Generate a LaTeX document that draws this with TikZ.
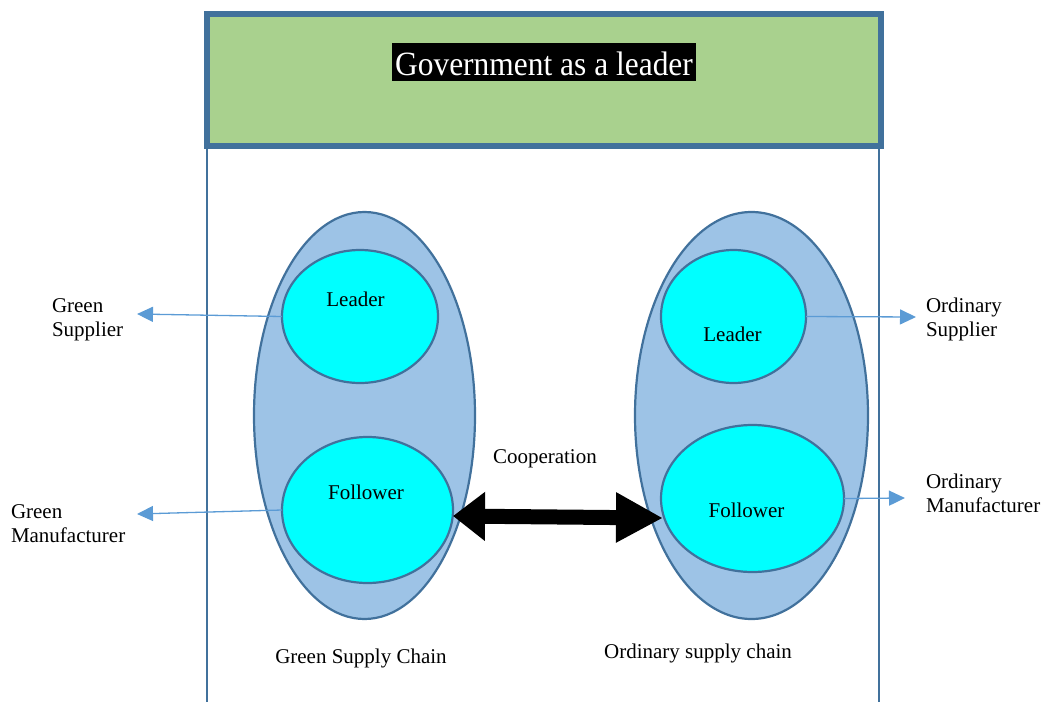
\documentclass[tikz,border=0pt]{standalone}
\usepackage{fontspec}
\usepackage{graphicx}
\setmainfont{Liberation Serif}
\usetikzlibrary{shapes.geometric,arrows.meta,calc}
\definecolor{bord}{HTML}{41719C}
\definecolor{govfill}{HTML}{A9D18E}
\definecolor{chainfill}{HTML}{9DC3E6}
\definecolor{aqua}{RGB}{0,255,255}
\definecolor{linkblue}{HTML}{5B9BD5}
\tikzset{
  chain/.style={ellipse, draw=bord, line width=2.2pt, fill=chainfill, inner sep=0pt, outer sep=0pt},
  role/.style={ellipse, draw=bord, line width=2.2pt, fill=aqua, inner sep=0pt, outer sep=0pt},
  lab/.style={font=\fontsize{21}{24}\selectfont, inner sep=0pt, outer sep=0pt},
  link/.style={draw=linkblue, line width=1.3pt, -{Triangle[length=16pt,width=15pt]}},
  coop/.style={draw=black, line width=15pt,
    {Triangle[length=32pt,width=47pt]}-{Triangle[length=47pt,width=47pt]}},
}
\begin{document}
\begin{tikzpicture}[x=1pt,y=-1pt]
\useasboundingbox (0,0) rectangle (1042,702);
% side walls
\coordinate (wl) at (207,702);
\coordinate (wr) at (879,702);
\draw[bord, line width=2pt] (207,146) -- (wl);
\draw[bord, line width=2pt] (879,146) -- (wr);
% government box
\node[draw=bord, line width=6pt, fill=govfill, inner sep=0pt, outer sep=0pt,
      minimum width=674pt, minimum height=132pt] (gov) at (544,80) {};
\node[fill=black, text=white, inner xsep=3pt, inner ysep=6pt, text height=26pt, text depth=0pt,
      font=\fontsize{34}{38}\selectfont, anchor=base] (title) at (544,75)
      {\scalebox{0.925}[1]{Government as a leader}};
% chains
\node[chain, minimum width=221pt, minimum height=407pt] (lg) at (364.5,415.5) {};
\node[chain, minimum width=233pt, minimum height=407pt] (rg) at (751.5,415.5) {};
\node[role, minimum width=156pt, minimum height=133pt] (ll) at (360,316.5) {};
\node[role, minimum width=171pt, minimum height=146pt] (lf) at (367.5,510) {};
\node[role, minimum width=145pt, minimum height=133pt] (rl) at (733.5,316.5) {};
\node[role, minimum width=183pt, minimum height=147pt] (rf) at (752.5,498.5) {};
\node[lab, anchor=base] (lltxt) at (355.5,306) {Leader};
\node[lab, anchor=base] (lftxt) at (366,499) {Follower};
\node[lab, anchor=base] (rltxt) at (732.5,341) {Leader};
\node[lab, anchor=base] (rftxt) at (746.5,517) {Follower};
% outer labels (base = last line)
\node[lab, anchor=base west, align=left] (gs) at (52,336) {Green\\Supplier};
\node[lab, anchor=base west, align=left] (gm) at (11,542) {Green\\Manufacturer};
\node[lab, anchor=base west, align=left] (os) at (926,336) {Ordinary\\Supplier};
\node[lab, anchor=base west, align=left] (om) at (926,512) {Ordinary\\Manufacturer};
\node[lab, anchor=base west] (co) at (493,463) {Cooperation};
\node[lab, anchor=base] (gsc) at (361,663) {Green Supply Chain};
\node[lab, anchor=base] (osc) at (698,658) {Ordinary supply chain};
% link arrows
\coordinate (gsTip) at (137,314);
\coordinate (gmTip) at (137,514);
\coordinate (osTip) at (916,317);
\coordinate (omTip) at (905,498);
\draw[link] (ll.west) -- (gsTip);
\draw[link] (lf.west) -- (gmTip);
\draw[link] (rl.east) -- (osTip);
\draw[link] (rf.east) -- (omTip);
% cooperation arrow
\draw[coop] ($(lf.east)+(0,6)$) -- ($(rf.west)+(2,19.5)$);
\end{tikzpicture}
\end{document}
